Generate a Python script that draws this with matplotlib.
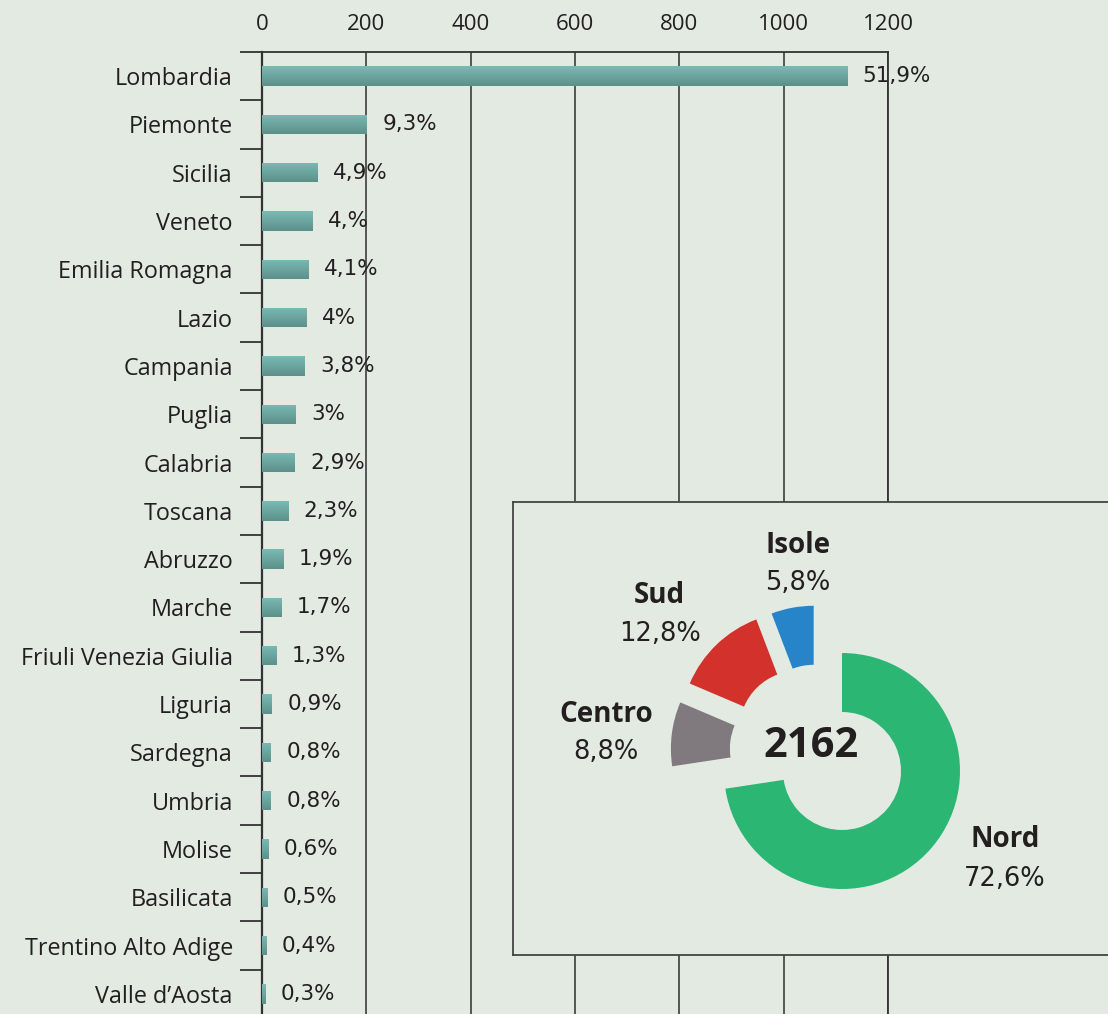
import numpy as np
import matplotlib
matplotlib.use("Agg")
import matplotlib.pyplot as plt
from matplotlib.patches import Wedge
from matplotlib.colors import LinearSegmentedColormap

# ---------------- data ----------------
regions = ["Lombardia", "Piemonte", "Sicilia", "Veneto", "Emilia Romagna", "Lazio",
           "Campania", "Puglia", "Calabria", "Toscana", "Abruzzo", "Marche",
           "Friuli Venezia Giulia", "Liguria", "Sardegna", "Umbria", "Molise",
           "Basilicata", "Trentino Alto Adige", "Valle d\u2019Aosta"]
counts = [1122, 201, 106, 97, 89, 86, 82, 65, 63, 50, 41, 37, 28, 19, 17, 17, 13, 11, 9, 6]
pct_labels = ["51,9%", "9,3%", "4,9%", "4,%", "4,1%", "4%", "3,8%", "3%", "2,9%", "2,3%",
              "1,9%", "1,7%", "1,3%", "0,9%", "0,8%", "0,8%", "0,6%", "0,5%", "0,4%", "0,3%"]
xticks = [0, 200, 400, 600, 800, 1000, 1200]

areas = ["Nord", "Centro", "Sud", "Isole"]
area_pct = [72.6, 8.8, 12.8, 5.8]
area_labels = ["72,6%", "8,8%", "12,8%", "5,8%"]
total = "2162"

# ---------------- style ----------------
BG = "#e2eae2"
TXT = "#231f20"
GRID = "#4a4a4a"
AREA_COLORS = ["#2bb673", "#80797d", "#d3312b", "#2784c8"]
FONT = "Open Sans"
NUMFONT = "DejaVu Sans"

W, H = 1108, 1014
fig = plt.figure(figsize=(W / 100, H / 100), dpi=100, facecolor=BG)

def fx(px):
    return px / W

def fy(py):
    return 1 - py / H

# ---- bar chart axes ----
top_px, row_h = 52, 48.3
bot_px = top_px + row_h * len(regions)
ax = fig.add_axes([fx(262), fy(bot_px), fx(888) - fx(262), fy(top_px) - fy(bot_px)])
ax.set_facecolor(BG)
ypos = np.arange(len(regions))
bars = ax.barh(ypos, counts, height=0.4, color="#6fa9a3", zorder=3)

# gradient fill on bars
grad = np.linspace(0, 1, 64).reshape(-1, 1)
cmap = LinearSegmentedColormap.from_list("tb", ["#7bbab3", "#5d908b"])
for b in bars:
    x0, y0 = b.get_x(), b.get_y()
    w, h = b.get_width(), b.get_height()
    im = ax.imshow(grad, cmap=cmap, aspect="auto", extent=(x0, x0 + w, y0 + h, y0),
                   origin="upper", zorder=4)
    im.set_clip_path(b)
ax.set_xlim(0, 1200)
ax.set_ylim(len(regions) - 0.5, -0.5)

# value labels
for yi, (v, lab) in enumerate(zip(counts, pct_labels)):
    ax.annotate(lab, xy=(v, yi), xytext=(11, 0), textcoords="offset points",
                va="center", ha="left", fontsize=15.5, color=TXT, family=NUMFONT, zorder=5)

ax.set_yticks(ypos)
ax.set_yticklabels(regions, fontsize=16.8, color=TXT, family=FONT)
ax.set_yticks(np.arange(-0.5, len(regions)), minor=True)
ax.tick_params(axis="y", which="major", length=0, pad=21)
ax.tick_params(axis="y", which="minor", length=16, width=1.3, color="#333333", direction="out")

ax.xaxis.tick_top()
ax.set_xticks(xticks)
ax.set_xticklabels([str(t) for t in xticks], fontsize=16, color=TXT, family=FONT)
ax.tick_params(axis="x", length=0, pad=12)
ax.grid(axis="x", color=GRID, linewidth=1.3, zorder=1)
ax.set_axisbelow(True)
for s in ["top", "right", "left"]:
    ax.spines[s].set_color("#333333")
    ax.spines[s].set_linewidth(1.3)
ax.spines["left"].set_linewidth(1.6)
ax.spines["bottom"].set_visible(False)

# ---- inset box ----
box = fig.add_axes([fx(513), fy(955), fx(1115) - fx(513), fy(502) - fy(955)], zorder=5)
box.set_facecolor(BG)
box.set_xticks([]); box.set_yticks([])
for s in box.spines.values():
    s.set_color("#444444")
    s.set_linewidth(1.3)

# ---- donut axes (units = outer radius, 118 px) ----
R = 118
cx, cy, half = 842, 771, 230
dax = fig.add_axes([fx(cx - half), fy(cy + half), 2 * half / W, 2 * half / H], zorder=6)
dax.set_xlim(-half / R, half / R)
dax.set_ylim(-half / R, half / R)
dax.axis("off")
dax.patch.set_alpha(0)

offsets = [(0, 0), (-0.45, 0.19), (-0.37, 0.35), (-0.24, 0.40)]
start = 90.0
for p, col, off in zip(area_pct, AREA_COLORS, offsets):
    end = start - 360 * p / 100
    dax.add_patch(Wedge(off, 1.0, end, start, width=0.5, facecolor=col, edgecolor="none"))
    start = end

name_pos = [(1.38, -0.58), (-2.0, 0.48), (-1.55, 1.49), (-0.373, 1.915)]
pct_pos = [(1.375, -0.915), (-2.0, 0.161), (-1.542, 1.161), (-0.373, 1.593)]
for nm, lab, npos, ppos in zip(areas, area_labels, name_pos, pct_pos):
    dax.text(*npos, nm, ha="center", va="center", fontsize=20, fontweight="bold",
             color=TXT, family=FONT, clip_on=False)
    dax.text(*ppos, lab, ha="center", va="center", fontsize=18.5,
             color=TXT, family=NUMFONT, clip_on=False)
dax.text(-0.263, 0.205, total, ha="center", va="center", fontsize=30, fontweight="bold",
         color=TXT, family=FONT)

fig.savefig("out.png", dpi=100, facecolor=BG)
